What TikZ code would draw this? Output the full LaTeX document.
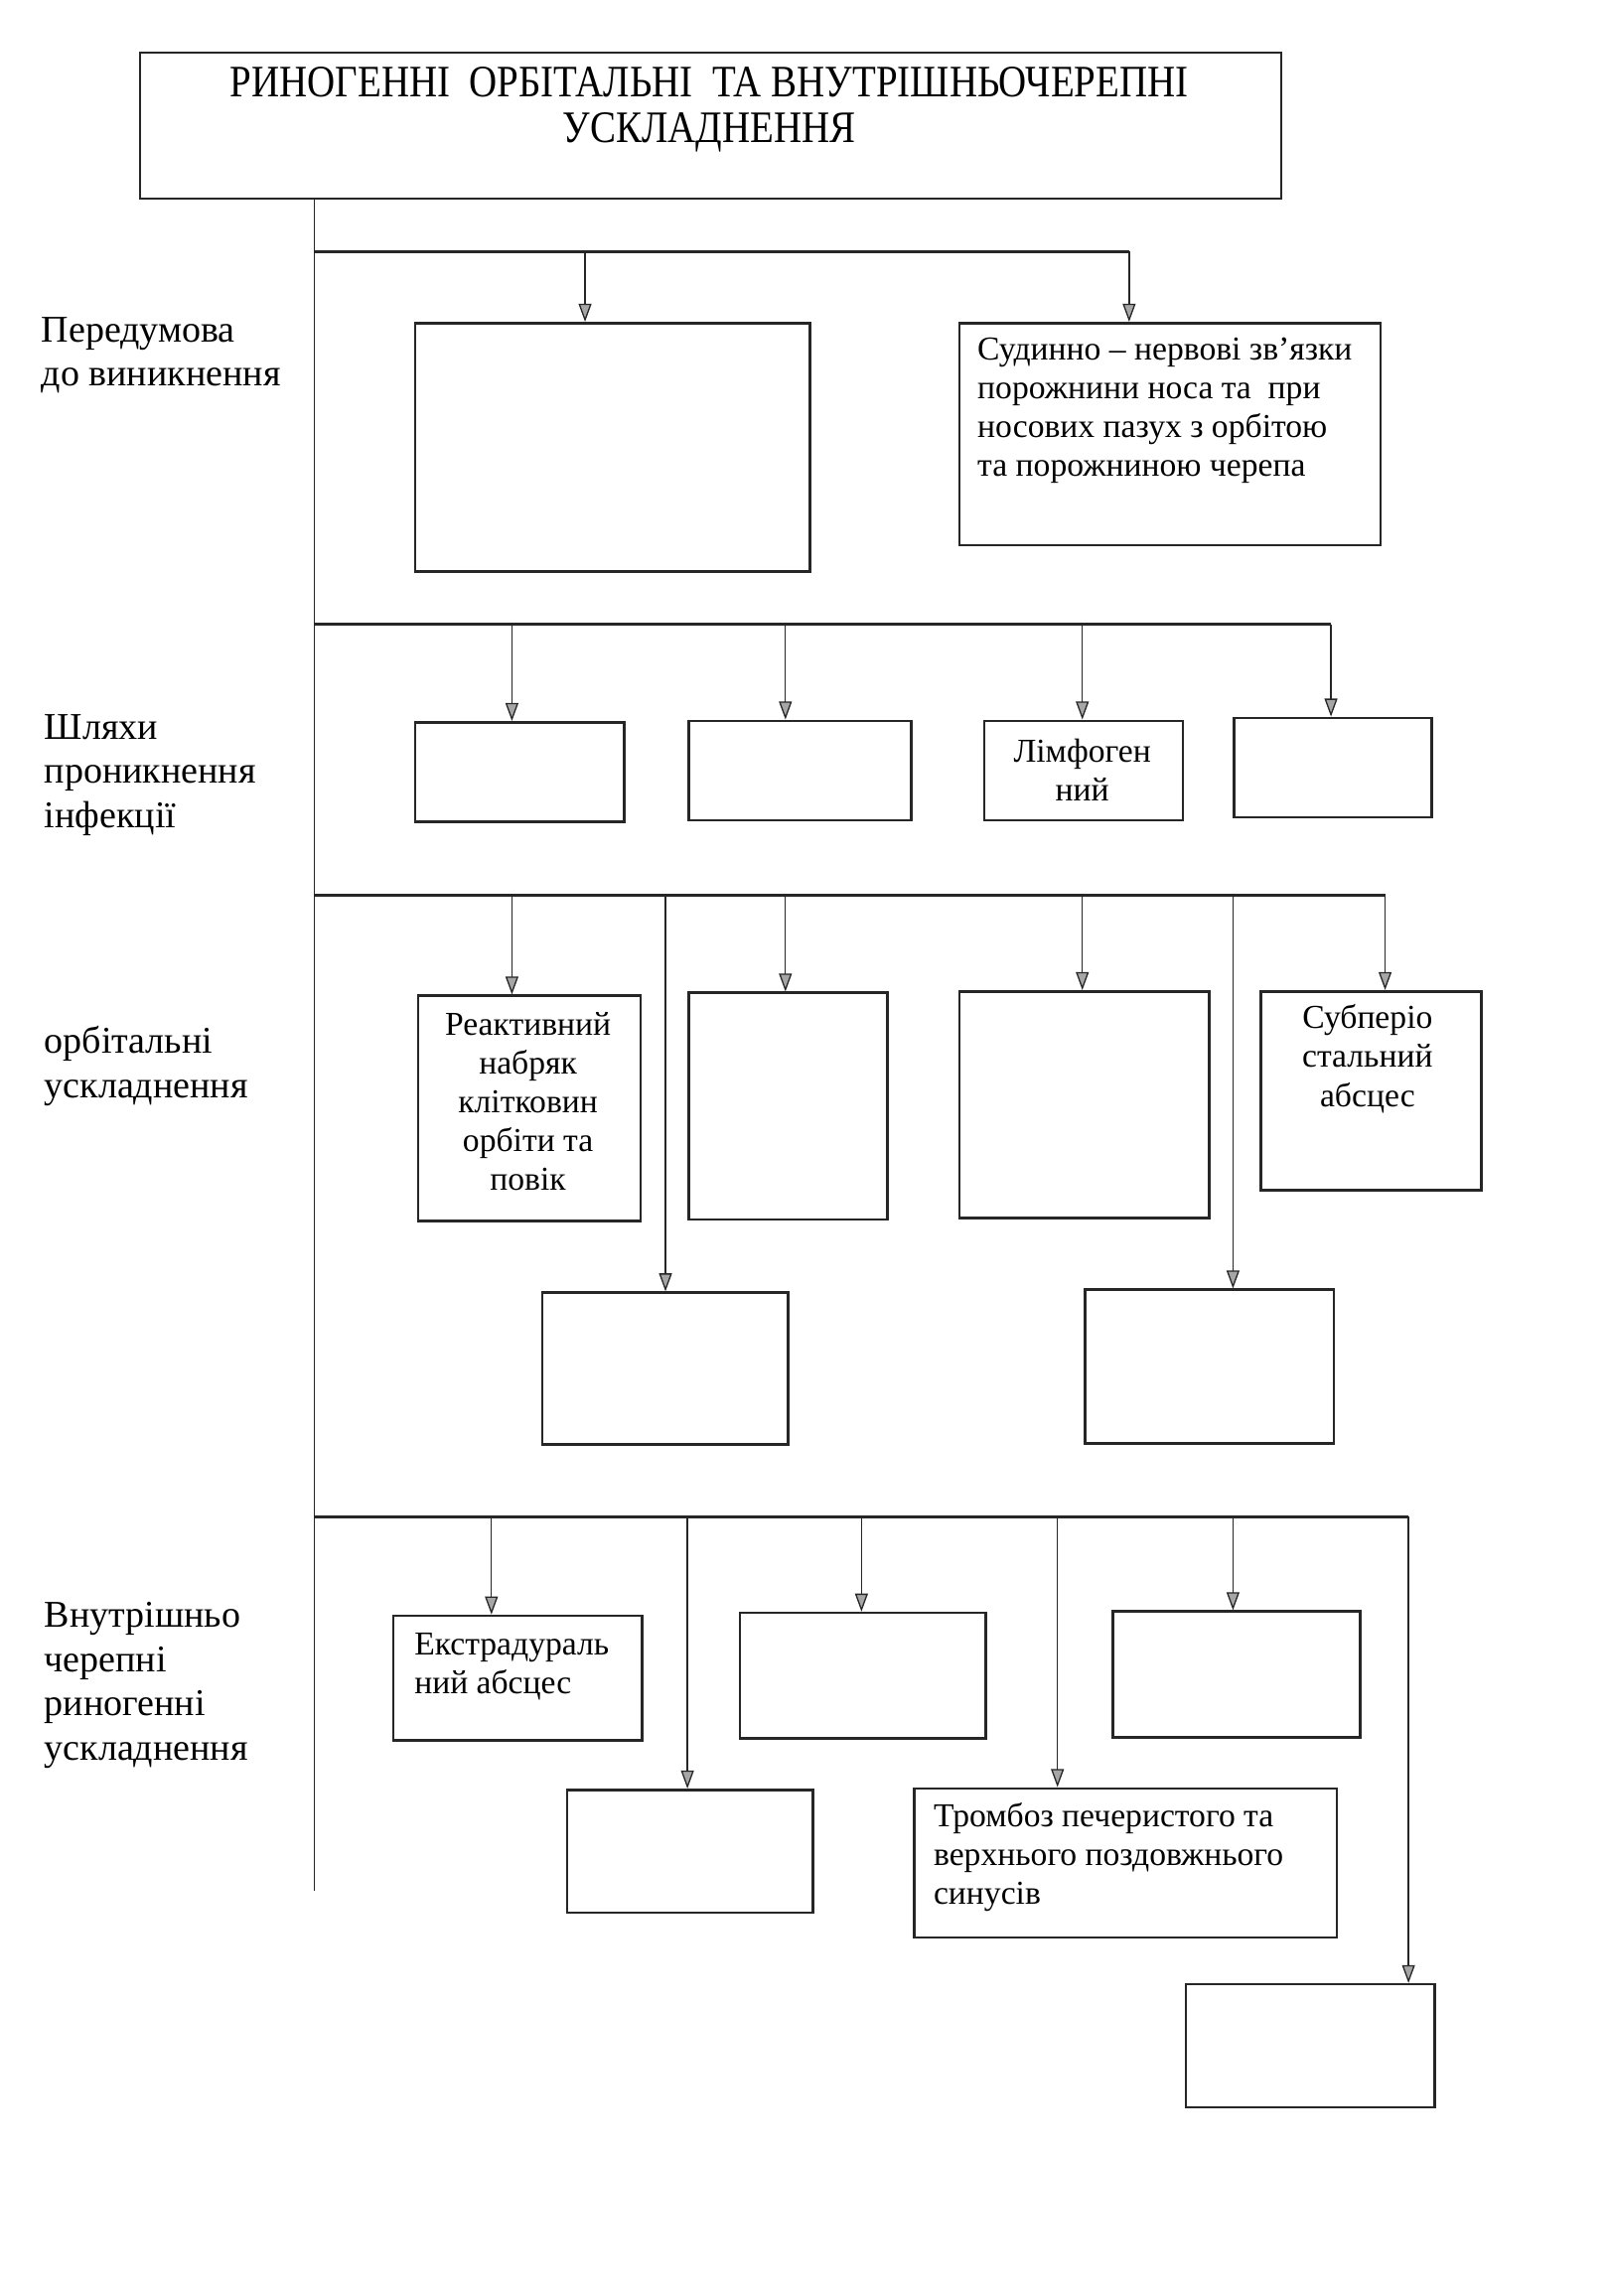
\documentclass[tikz,border=0pt]{standalone}
\usepackage{fontspec}
\setmainfont{Liberation Serif}
\newfontfamily\titlefont[FakeStretch=0.86]{Liberation Serif}
\usetikzlibrary{arrows.meta}

\begin{document}
\begin{tikzpicture}[
	>={Triangle[width=5pt,length=7pt,fill=gray!70]},
	box/.style={shape=rectangle,draw=black!85,line width=1pt,anchor=north west,inner sep=0pt},
	txt/.style={inner sep=0pt,font=\fontsize{13}{15.1}\selectfont},
	side/.style={inner sep=0pt,anchor=west,align=left,font=\fontsize{14.7}{17.2}\selectfont},
	bus/.style={color=black!85,line width=1.1pt},
	stem/.style={color=black!85,line width=0.5pt},
	arr/.style={stem,->}
]
	\useasboundingbox (0,0) rectangle (22,-31.4);

	% title
	\node[box,minimum width=15.6cm,minimum height=2cm] (top) at (1.9,-0.7) {};
	\node[txt,align=center,font=\titlefont\fontsize{17.5}{18}\selectfont] (topt) at (9.7,-1.5)
		{РИНОГЕННІ~ ОРБІТАЛЬНІ~ ТА ВНУТРІШНЬОЧЕРЕПНІ\\УСКЛАДНЕННЯ};

	% spine
	\coordinate (s0) at (4.3,-2.7);
	\coordinate (s1) at (4.3,-25.86);
	\path[stem] (s0) edge (s1);

	% side labels
	\node[side] (l1) at (0.56,-4.86)  {Передумова\\до виникнення};
	\node[side] (l2) at (0.6,-10.6)   {Шляхи\\проникнення\\інфекції};
	\node[side] (l3) at (0.6,-14.58)  {орбітальні\\ускладнення};
	\node[side] (l4) at (0.6,-23.05)  {Внутрішньо\\черепні\\риногенні\\ускладнення};

	% row 1
	\node[box,minimum width=5.4cm,minimum height=3.4cm]   (pA) at (5.66,-4.4) {};
	\node[box,minimum width=5.76cm,minimum height=3.04cm] (pB) at (13.1,-4.4) {};
	\node[txt,anchor=west,align=left] (pBt) at (13.36,-5.615)
		{Судинно – нервові зв’язки\\порожнини носа та~ при\\носових пазух з орбітою\\та порожниною черепа};

	\coordinate (b1)  at (4.3,-3.44);
	\coordinate (b1a) at (8.0,-3.44);
	\coordinate (b1b) at (15.44,-3.44);
	\path[bus] (b1) edge (b1b);
	\path[arr] (b1a) edge (b1a |- pA.north);
	\path[arr] (b1b) edge (b1b |- pB.north);

	% row 2
	\node[box,minimum width=2.86cm,minimum height=1.36cm] (w1) at (5.66,-9.86) {};
	\node[box,minimum width=3.04cm,minimum height=1.36cm] (w2) at (9.4,-9.84)  {};
	\node[box,minimum width=2.72cm,minimum height=1.36cm] (w3) at (13.44,-9.84) {};
	\node[box,minimum width=2.7cm,minimum height=1.36cm]  (w4) at (16.86,-9.8) {};
	\node[txt,align=center] (w3t) at (14.8,-10.53) {Лімфоген\\ний};

	\coordinate (b2)  at (4.3,-8.54);
	\coordinate (b2a) at (7.0,-8.54);
	\coordinate (b2b) at (10.74,-8.54);
	\coordinate (b2c) at (14.8,-8.54);
	\coordinate (b2d) at (18.2,-8.54);
	\path[bus] (b2) edge (b2d);
	\path[arr] (b2a) edge (b2a |- w1.north);
	\path[arr] (b2b) edge (b2b |- w2.north);
	\path[arr] (b2c) edge (b2c |- w3.north);
	\path[arr] (b2d) edge (b2d |- w4.north);

	% row 3
	\node[box,minimum width=3.04cm,minimum height=3.08cm] (o1) at (5.7,-13.6)   {};
	\node[box,minimum width=2.72cm,minimum height=3.1cm]  (o2) at (9.4,-13.56)  {};
	\node[box,minimum width=3.42cm,minimum height=3.1cm]  (o3) at (13.1,-13.54) {};
	\node[box,minimum width=3.02cm,minimum height=2.72cm] (o4) at (17.22,-13.54) {};
	\node[box,minimum width=3.36cm,minimum height=2.08cm] (o5) at (7.4,-17.66)  {};
	\node[box,minimum width=3.4cm,minimum height=2.1cm]   (o6) at (14.82,-17.62) {};
	\node[txt,align=center] (o1t) at (7.22,-15.06) {Реактивний\\набряк\\клітковин\\орбіти та\\повік};
	\node[txt,align=center] (o4t) at (18.7,-14.48) {Субперіо\\стальний\\абсцес};

	\coordinate (b3)  at (4.3,-12.24);
	\coordinate (b3a) at (7.0,-12.24);
	\coordinate (b3b) at (9.1,-12.24);
	\coordinate (b3c) at (10.74,-12.24);
	\coordinate (b3d) at (14.8,-12.24);
	\coordinate (b3e) at (16.86,-12.24);
	\coordinate (b3f) at (18.94,-12.24);
	\path[bus] (b3) edge (b3f);
	\path[arr] (b3a) edge (b3a |- o1.north);
	\path[arr] (b3b) edge (b3b |- o5.north);
	\path[arr] (b3c) edge (b3c |- o2.north);
	\path[arr] (b3d) edge (b3d |- o3.north);
	\path[arr] (b3e) edge (b3e |- o6.north);
	\path[arr] (b3f) edge (b3f |- o4.north);

	% row 4
	\node[box,minimum width=3.4cm,minimum height=1.7cm]   (i1) at (5.36,-22.08) {};
	\node[box,minimum width=3.36cm,minimum height=1.72cm] (i2) at (10.1,-22.04) {};
	\node[box,minimum width=3.38cm,minimum height=1.72cm] (i3) at (15.2,-22.02) {};
	\node[box,minimum width=3.36cm,minimum height=1.68cm] (i4) at (7.74,-24.46) {};
	\node[box,minimum width=5.78cm,minimum height=2.04cm] (i5) at (12.48,-24.44) {};
	\node[box,minimum width=3.4cm,minimum height=1.68cm]  (i6) at (16.2,-27.12) {};
	\node[txt,anchor=west,align=left] (i1t) at (5.66,-22.79) {Екстрадураль\\ний абсцес};
	\node[txt,anchor=west,align=left] (i5t) at (12.76,-25.4) {Тромбоз печеристого та\\верхнього поздовжнього\\синусів};

	\coordinate (b4)  at (4.3,-20.74);
	\coordinate (b4a) at (6.72,-20.74);
	\coordinate (b4b) at (9.4,-20.74);
	\coordinate (b4c) at (11.78,-20.74);
	\coordinate (b4d) at (14.46,-20.74);
	\coordinate (b4e) at (16.86,-20.74);
	\coordinate (b4f) at (19.26,-20.74);
	\path[bus] (b4) edge (b4f);
	\path[arr] (b4a) edge (b4a |- i1.north);
	\path[arr] (b4b) edge (b4b |- i4.north);
	\path[arr] (b4c) edge (b4c |- i2.north);
	\path[arr] (b4d) edge (b4d |- i5.north);
	\path[arr] (b4e) edge (b4e |- i3.north);
	\path[arr] (b4f) edge (b4f |- i6.north);

\end{tikzpicture}
\end{document}
